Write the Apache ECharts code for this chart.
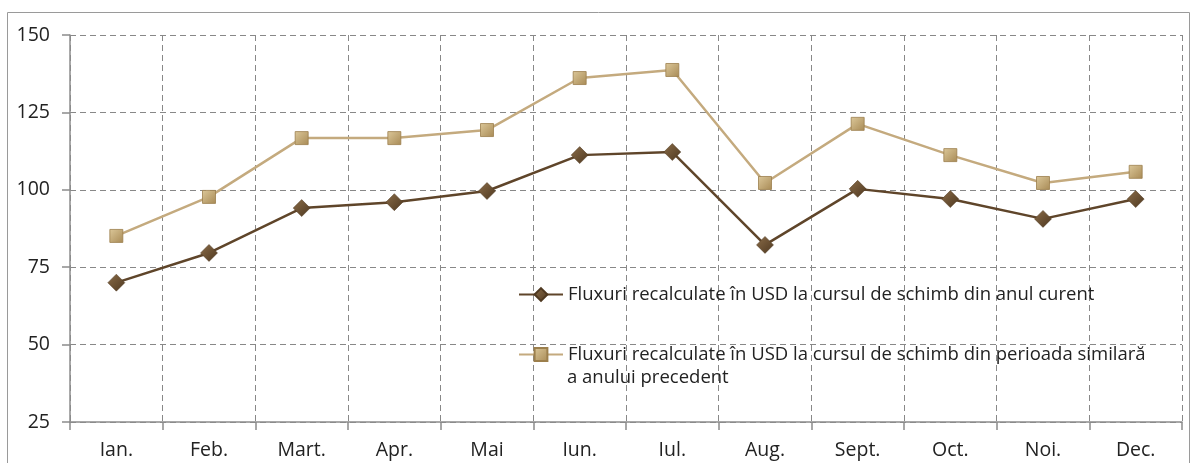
<!DOCTYPE html>
<html><head><meta charset="utf-8">
<script src="https://cdn.jsdelivr.net/npm/echarts@6/dist/echarts.min.js"></script>
<style>html,body{margin:0;padding:0;background:#fff}#c{width:1196px;height:463px}</style>
</head><body><div id="c"></div>
<script>
const categories = ['Ian.','Feb.','Mart.','Apr.','Mai','Iun.','Iul.','Aug.','Sept.','Oct.','Noi.','Dec.'];
const seriesCurrentName = 'Fluxuri recalculate în USD la cursul de schimb din anul curent';
const seriesPrevName = 'Fluxuri recalculate în USD la cursul de schimb din perioada similară';
const seriesPrevNameLine2 = 'a anului precedent';
const seriesCurrent = [70, 79.6, 94.1, 96, 99.6, 111.2, 112.2, 82.2, 100.3, 97, 90.6, 97];
const seriesPrev = [85.1, 97.7, 116.7, 116.7, 119.3, 136.1, 138.7, 102.2, 121.3, 111.2, 102.2, 105.8];
const yTicks = {min: 25, max: 150, interval: 25};

const font = 'Open Sans';
const chart = echarts.init(document.getElementById('c'));
chart.setOption({
  animation: false,
  graphic: [
    {type:'rect', shape:{x:7.5,y:12.5,width:1182,height:470}, style:{fill:'none', stroke:'#9a9a9a', lineWidth:1}, silent:true, z:-1},
    {type:'text', left: 567, top: 368, style:{text: seriesPrevNameLine2, fontFamily: font, fontSize: 18.5, fill: '#222'}, z: 10}
  ],
  grid: {left: 70, right: 14, top: 35, bottom: 41},
  legend: [{
    data: [seriesCurrentName], left: 518, top: 285, padding: 0,
    itemWidth: 44, itemHeight: 16,
    textStyle: {fontFamily: font, fontSize: 18.5, color: '#222'}
  },{
    data: [seriesPrevName], left: 518, top: 345, padding: 0,
    itemWidth: 44, itemHeight: 16,
    textStyle: {fontFamily: font, fontSize: 18.5, color: '#222'}
  }],
  xAxis: {
    type: 'category', data: categories, boundaryGap: true,
    axisLine: {lineStyle: {color: '#8c8c8c', width: 1.5}},
    axisTick: {show: true, length: 8, lineStyle: {color: '#8c8c8c', width: 1.5}},
    axisLabel: {fontFamily: font, fontSize: 19.5, color: '#222', margin: 18},
    splitLine: {show: true, lineStyle: {color: '#888', type: [6,4], width: 1}}
  },
  yAxis: {
    type: 'value', min: yTicks.min, max: yTicks.max, interval: yTicks.interval,
    axisLine: {show: true, lineStyle: {color: '#8c8c8c', width: 1.5}},
    axisTick: {show: true, length: 8, lineStyle: {color: '#8c8c8c', width: 1.5}},
    axisLabel: {fontFamily: font, fontSize: 19.5, color: '#222', margin: 20},
    splitLine: {show: true, lineStyle: {color: '#888', type: [6,4], width: 1}}
  },
  series: [{
    name: seriesCurrentName, type: 'line', data: seriesCurrent,
    symbol: 'diamond', symbolSize: 17,
    lineStyle: {color: '#5f452a', width: 2.5},
    itemStyle: {color: new echarts.graphic.LinearGradient(0,0,1,1,[{offset:0,color:'#8a6c48'},{offset:1,color:'#4e3820'}]), borderColor:'#4e3820', borderWidth:0.5}
  },{
    name: seriesPrevName, type: 'line', data: seriesPrev,
    symbol: 'rect', symbolSize: 13,
    lineStyle: {color: '#c4aa7e', width: 2.5},
    itemStyle: {color: new echarts.graphic.LinearGradient(0,0,1,1,[{offset:0,color:'#dcc89a'},{offset:1,color:'#a88a55'}]), borderColor:'#9c7f4c', borderWidth:0.8}
  }]
});
</script></body></html>
